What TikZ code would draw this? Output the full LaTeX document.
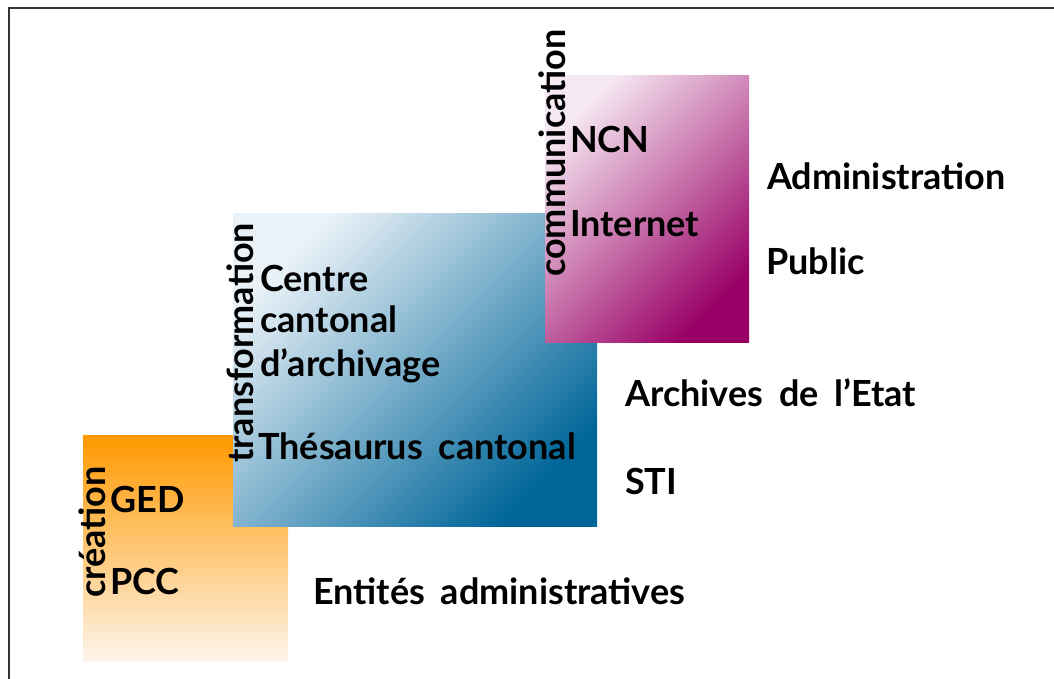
\documentclass[tikz,border=0pt]{standalone}
\usepackage{fontspec}
\setmainfont{Lato}[WordSpace=1.8]
\definecolor{orangeTop}{HTML}{FF9900}
\definecolor{orangeBot}{HTML}{FDF5EC}
\definecolor{blueLight}{HTML}{EAF2F8}
\definecolor{blueDark}{HTML}{006699}
\definecolor{magLight}{HTML}{F6E8F2}
\definecolor{magDark}{HTML}{990066}
\definecolor{frameCol}{HTML}{333333}
\tikzset{
  lbl/.style={anchor=base west, inner sep=0pt, font=\fontsize{36}{40}\selectfont\bfseries, text=black},
  vlbl/.style={lbl, rotate=90},
  framepart/.style={draw=frameCol, line width=1.6pt}
}
\begin{document}
\begin{tikzpicture}[x=1pt,y=1pt]
\useasboundingbox (0,0) rectangle (1054,679);
% frame
\coordinate (fbl) at (9,0);
\coordinate (ftl) at (9,671);
\coordinate (ftr) at (1054,671);
\draw[framepart] (fbl) -- (ftl) -- (ftr);
% boxes
\shade[top color=orangeTop, bottom color=orangeBot] (83,17) rectangle (288,243);
\shade[top color=blueLight, bottom color=blueDark, shading angle=45] (233,152) rectangle (597,465);
\shade[top color=magLight, bottom color=magDark, shading angle=45] (545,336) rectangle (749,603);
% labels
\node[vlbl] (comm) at (565,402) {communication};
\node[lbl] (ncn) at (570,526) {NCN};
\node[lbl] (internet) at (570,442) {Internet};
\node[lbl] (admin) at (767,489) {Administration};
\node[lbl] (public) at (766,404) {Public};
\node[vlbl] (transf) at (253,216) {transformation};
\node[lbl] (centre) at (260,387) {Centre};
\node[lbl] (canton) at (260,346) {cantonal};
\node[lbl] (darch) at (260,302) {d’archivage};
\node[lbl] (thes) at (258,219) {Thésaurus cantonal};
\node[lbl] (aev) at (625,272) {Archives de l’Etat};
\node[lbl] (sti) at (625,184) {STI};
\node[vlbl] (creat) at (105,81) {création};
\node[lbl] (ged) at (110,166) {GED};
\node[lbl] (pcc) at (110,84) {PCC};
\node[lbl] (ent) at (313,74) {Entités administratives};
\end{tikzpicture}
\end{document}
